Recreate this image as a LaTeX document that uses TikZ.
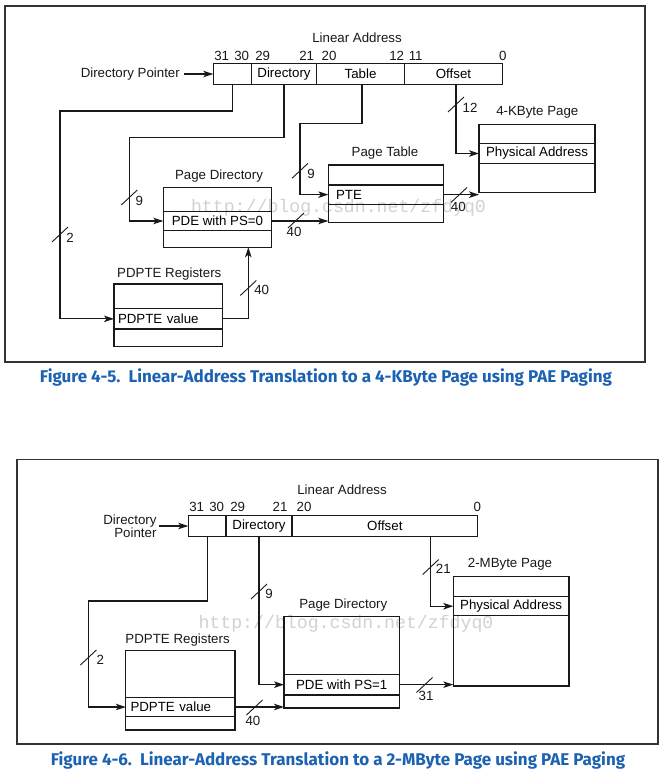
\documentclass[tikz,border=0pt]{standalone}
\usepackage{fontspec}
\setmainfont{Liberation Sans}
\newfontfamily\capfont{Fira Sans}
\newfontfamily\wmfont{Liberation Mono}
\usetikzlibrary{arrows.meta,calc}
\definecolor{capblue}{RGB}{28,98,178}
\definecolor{wmgray}{RGB}{210,210,210}
\definecolor{ink}{RGB}{25,25,25}
\begin{document}
\begin{tikzpicture}[x=1pt,y=-1pt,
  font=\fontsize{13.3}{15}\selectfont,
  box/.style={draw=ink, line width=1.2pt, inner sep=0pt, outer sep=0pt, anchor=north west},
  lbl/.style={inner sep=0pt, text=ink},
  wire/.style={draw=ink, line width=1.2pt},
  arr/.style={wire, -{Stealth[length=10pt,width=6.5pt,inset=2.5pt]}},
  outerframe/.style={draw=black!80, line width=1.5pt},
  figcap/.style={inner sep=0pt, text=capblue, font=\capfont\bfseries\fontsize{17}{20}\selectfont},
  wm/.style={inner sep=0pt, text=wmgray, font=\wmfont\fontsize{18.2}{20}\selectfont},
  pics/bus/.style={code={\draw[ink, line width=0.9pt] (-8,7.5) -- (8,-7.5);}}
]
\useasboundingbox (0,0) rectangle (663,775);
\fill[white] (0,0) rectangle (663,775);

% ---------------- watermarks ----------------
\node[wm] (w1) at (338.5,208) {http://blog.csdn.net/zfdyq0};
\node[wm] (w2) at (346,623.3) {http://blog.csdn.net/zfdyq0};

% ================= Figure 4-5 =================
\draw[outerframe] (5,6) rectangle (645,362);

\node[lbl] (la1) at (357,37.7) {Linear Address};
\node[lbl] (b31) at (221.7,55.7) {31};
\node[lbl] (b30) at (241.7,55.7) {30};
\node[lbl] (b29) at (262.7,55.7) {29};
\node[lbl] (b21) at (306.7,55.7) {21};
\node[lbl] (b20) at (329,55.7) {20};
\node[lbl] (b12) at (396.7,55.7) {12};
\node[lbl] (b11) at (415.7,55.7) {11};
\node[lbl] (b0) at (502.7,55.7) {0};

\node[box, minimum width=38pt, minimum height=21pt] (a1) at (213.3,63.3) {};
\node[box, minimum width=65.4pt, minimum height=21pt] (a2) at (251.3,63.3) {Directory};
\node[box, minimum width=87.6pt, minimum height=21pt] (a3) at (316.7,63.3) {Table};
\node[box, minimum width=98.4pt, minimum height=21pt] (a4) at (404.3,63.3) {Offset};

\node[lbl, inner xsep=4pt, anchor=east] (dp1) at (184,74) {Directory Pointer};
\draw[arr] (dp1.east) -- (dp1.east -| a1.west);

% 4-KByte page
\node[lbl] (pgl) at (537.3,112.7) {4-KByte Page};
\node[box, minimum width=116pt, minimum height=19.4pt] (pg1) at (479,124.3) {};
\node[box, minimum width=116pt, minimum height=19.6pt] (pg2) at (479,143.7) {Physical Address};
\node[box, minimum width=116pt, minimum height=29.4pt] (pg3) at (479,163.3) {};

% Page table
\node[lbl] (ptl) at (385,153.3) {Page Table};
\node[box, minimum width=115pt, minimum height=20pt] (pt1) at (328.3,165) {};
\node[box, minimum width=115pt, minimum height=19.3pt, text width=99.6pt, align=left] (pt2) at (328.3,185) {PTE};
\node[box, minimum width=115pt, minimum height=18pt] (pt3) at (328.3,204.3) {};

% Page directory
\node[lbl] (pdl) at (219,176) {Page Directory};
\node[box, minimum width=108.4pt, minimum height=23.6pt] (pd1) at (163.3,187.7) {};
\node[box, minimum width=108.4pt, minimum height=19.4pt] (pd2) at (163.3,211.3) {PDE with PS=0};
\node[box, minimum width=108.4pt, minimum height=16.6pt] (pd3) at (163.3,230.7) {};

% PDPTE registers
\node[lbl] (ppl) at (169.3,274) {PDPTE Registers};
\node[box, minimum width=108.7pt, minimum height=24.7pt] (pp1) at (114,284) {};
\node[box, minimum width=108.7pt, minimum height=20.3pt, text width=100.7pt, align=left] (pp2) at (114,308.7) {PDPTE value};
\node[box, minimum width=108.7pt, minimum height=17.7pt] (pp3) at (114,329) {};

% connectors
\coordinate (t1) at (60,111);
\coordinate (t2) at (129.3,137.7);
\coordinate (t3) at (300,123.3);
\coordinate (t4) at ($(a4.south)+(2.5,0)$);
\coordinate (t5) at (248.3,247.3);
\draw[arr] (a1.south) |- (t1) |- (pp2.west);
\draw[arr] (a2.south) |- (t2) |- (pd2.west);
\draw[arr] ($(a3.south)+(1.5,0)$) |- (t3) |- (pt2.west);
\draw[arr] (t4) |- (pg2.west);
\draw[arr] (pd2.east) -- (pd2.east -| pt3.west);
\draw[arr] (pt2.east) -- (pt2.east -| pg3.west);
\draw[arr] (pp2.east) -| (t5);

% bus widths
\pic at (60,234.5) {bus};      \node[lbl] (n2a) at (70,237.7) {2};
\pic at (129.3,197.5) {bus};   \node[lbl] (n9a) at (139.3,200.7) {9};
\pic at (300,170.8) {bus};     \node[lbl] (n9b) at (311,174) {9};
\pic at (456,104.5) {bus};     \node[lbl] (n12) at (470,107.7) {12};
\pic at (296,220.5) {bus};     \node[lbl] (n40a) at (294,232.3) {40};
\pic at (459,195) {bus};       \node[lbl] (n40b) at (458.3,207.3) {40};
\pic at (248.3,288) {bus};     \node[lbl] (n40c) at (261.7,290) {40};

\node[figcap] (c1) at (326,377) {Figure 4-5.\ \ Linear-Address Translation to a 4-KByte Page using PAE Paging};

% ================= Figure 4-6 =================
\draw[outerframe] (17,459.3) rectangle (658,744);

\node[lbl] (la2) at (342,489.3) {Linear Address};
\node[lbl] (d31) at (196.7,507.3) {31};
\node[lbl] (d30) at (216.7,507.3) {30};
\node[lbl] (d29) at (237.7,507.3) {29};
\node[lbl] (d21) at (280,507.3) {21};
\node[lbl] (d20) at (304,507.3) {20};
\node[lbl] (d0) at (477.3,507.3) {0};

\node[box, minimum width=37.7pt, minimum height=21pt] (s1) at (188.3,515.7) {};
\node[box, minimum width=66pt, minimum height=21pt] (s2) at (226,515.7) {Directory};
\node[box, minimum width=185.7pt, minimum height=21pt] (s3) at (292,515.7) {Offset};

\node[lbl, inner xsep=2.6pt, anchor=east, align=right, font=\fontsize{13.3}{13}\selectfont] (dp2) at (159.3,526) {Directory\\Pointer};
\draw[arr] (dp2.east) -- (dp2.east -| s1.west);

% 2-MByte page
\node[lbl] (qgl) at (510,564.3) {2-MByte Page};
\node[box, minimum width=115.7pt, minimum height=20pt] (qg1) at (453.3,576.7) {};
\node[box, minimum width=115.7pt, minimum height=19pt] (qg2) at (453.3,596.7) {Physical Address};
\node[box, minimum width=115.7pt, minimum height=70.3pt] (qg3) at (453.3,615.7) {};

% Page directory
\node[lbl] (qdl) at (343.3,605) {Page Directory};
\node[box, minimum width=115.5pt, minimum height=57.8pt] (qd1) at (284,616.5) {};
\node[box, minimum width=115.5pt, minimum height=20.7pt] (qd2) at (284,674.3) {PDE with PS=1};
\node[box, minimum width=115.5pt, minimum height=13pt] (qd3) at (284,695) {};

% PDPTE registers
\node[lbl] (qql) at (177.6,640) {PDPTE Registers};
\node[box, minimum width=109.2pt, minimum height=46.6pt] (qq1) at (125.8,650.7) {};
\node[box, minimum width=109.2pt, minimum height=19.4pt, text width=99.8pt, align=left] (qq2) at (125.8,697.3) {PDPTE value};
\node[box, minimum width=109.2pt, minimum height=13.3pt] (qq3) at (125.8,716.7) {};

% connectors
\coordinate (u1) at (88.4,601);
\coordinate (u3) at ($(s3.south west)+(138.7,0)$);
\draw[arr] (s1.south) |- (u1) |- (qq2.west);
\draw[arr] (s2.south) |- (qd2.west);
\draw[arr] (u3) |- (qg2.west);
\draw[arr] (qd2.east) -- (qd2.east -| qg3.west);
\draw[arr] (qq2.east) -- (qq2.east -| qd3.west);

% bus widths
\pic at (88.4,657.5) {bus};    \node[lbl] (m2) at (100.3,660) {2};
\pic at (259,591.5) {bus};     \node[lbl] (m9) at (269,594) {9};
\pic at (430.7,567) {bus};     \node[lbl] (m21) at (443.3,569.3) {21};
\pic at (424.5,685) {bus};     \node[lbl] (m31) at (426,695.7) {31};
\pic at (254.5,707.5) {bus};   \node[lbl] (m40) at (252.9,720.7) {40};

\node[figcap] (c2) at (338,760) {Figure 4-6.\ \ Linear-Address Translation to a 2-MByte Page using PAE Paging};
\end{tikzpicture}
\end{document}
